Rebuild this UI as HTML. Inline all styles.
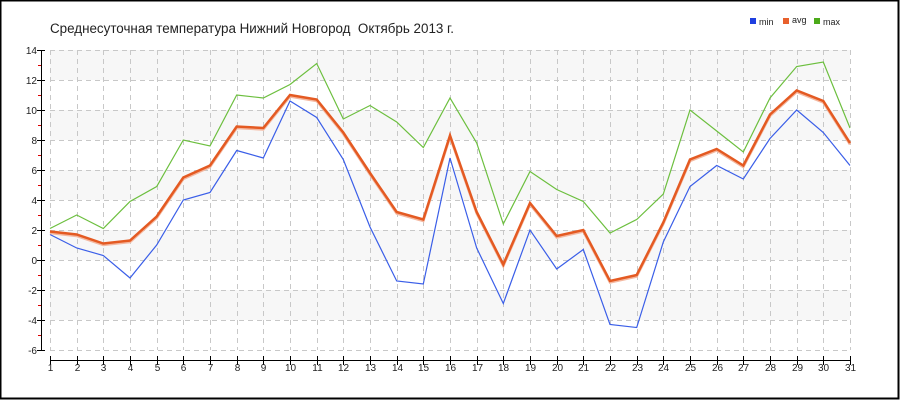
<!DOCTYPE html>
<html><head><meta charset="utf-8"><style>
html,body{margin:0;padding:0;background:#fff}
svg{display:block;font-family:"Liberation Sans",sans-serif}
</style></head><body>
<svg id="s" width="900" height="400" xmlns="http://www.w3.org/2000/svg">
<rect x="0.5" y="0.5" width="898" height="398" fill="#fff" stroke="#000" stroke-width="2"/>
<text x="50" y="33" font-size="13.4" fill="#222">Среднесуточная температура Нижний Новгород&#160; Октябрь 2013 г.</text>
<rect x="750" y="18" width="6" height="6" fill="#1f3fe0"/><text x="759" y="25" font-size="9" fill="#222">min</text>
<rect x="783" y="18" width="6" height="6" fill="#e8602c"/><text x="792" y="23" font-size="9" fill="#222">avg</text>
<rect x="814" y="18" width="6" height="6" fill="#4caa1a"/><text x="823" y="25" font-size="9" fill="#222">max</text>
<g id="g"></g>
</svg>
<script>
var g=document.getElementById('g'),h='';
function X(d){return 50+(d-1)*800/30}
function Y(v){return 260-v*15}
[[14,12],[10,8],[6,4],[2,0],[-2,-4]].forEach(function(b){h+='<rect x="50" y="'+Y(b[0])+'" width="800" height="30" fill="#f7f7f7"/>'});
for(var v=-6;v<=14;v+=2)h+='<line x1="50" x2="850" y1="'+(Y(v)+.5)+'" y2="'+(Y(v)+.5)+'" stroke="#c8c8c8" stroke-dasharray="5,4"/>';
for(var d=1;d<=31;d++)h+='<line y1="50" y2="350" x1="'+(Math.round(X(d))+.5)+'" x2="'+(Math.round(X(d))+.5)+'" stroke="#c8c8c8" stroke-dasharray="5,4"/>';
h+='<line x1="41.5" x2="41.5" y1="50" y2="350" stroke="#000"/>';
for(v=-6;v<=14;v+=2){h+='<line x1="37" x2="45" y1="'+(Y(v)+.5)+'" y2="'+(Y(v)+.5)+'" stroke="#000"/><text x="37" y="'+(Y(v)+4)+'" font-size="10" text-anchor="end" fill="#222">'+v+'</text>';
 if(v<14)h+='<line x1="38" x2="41" y1="'+(Y(v+1)+.5)+'" y2="'+(Y(v+1)+.5)+'" stroke="#d00"/>';}
h+='<line x1="50" x2="851" y1="360.5" y2="360.5" stroke="#000"/>';
for(d=1;d<=31;d++){var x=Math.round(X(d))+.5;h+='<line x1="'+x+'" x2="'+x+'" y1="356" y2="365" stroke="#000"/><text x="'+x+'" y="371" font-size="10" text-anchor="middle" fill="#222">'+d+'</text>';}
var mn=[1.7,0.8,0.3,-1.2,1.0,4.0,4.5,7.3,6.8,10.6,9.5,6.7,2.2,-1.4,-1.6,6.8,0.8,-2.9,2.0,-0.6,0.7,-4.3,-4.5,1.2,4.9,6.3,5.4,8.1,10.0,8.5,6.3];
var av=[1.9,1.7,1.1,1.3,2.9,5.5,6.3,8.9,8.8,11.0,10.7,8.5,5.8,3.2,2.7,8.3,3.2,-0.3,3.8,1.6,2.0,-1.4,-1.0,2.5,6.7,7.4,6.3,9.7,11.3,10.6,7.8];
var mx=[2.1,3.0,2.1,3.9,4.9,8.0,7.6,11.0,10.8,11.7,13.1,9.4,10.3,9.2,7.5,10.8,7.8,2.4,5.9,4.7,3.9,1.8,2.7,4.4,10.0,8.6,7.2,10.8,12.9,13.2,8.8];
function P(a,dy){return a.map(function(v,i){return X(i+1).toFixed(1)+','+(Y(v)+(dy||0)).toFixed(1)}).join(' ')}
h+='<polyline points="'+P(mn)+'" fill="none" stroke="#3a5ee8" stroke-width="1.2"/>';
h+='<polyline points="'+P(mx)+'" fill="none" stroke="#6cbf3e" stroke-width="1.2"/>';
h+='<polyline points="'+P(av,1.5)+'" fill="none" stroke="#f4b8a0" stroke-width="2.5"/>';
h+='<polyline points="'+P(av)+'" fill="none" stroke="#e45a22" stroke-width="2.5"/>';
g.innerHTML=h;
</script>
</body></html>
